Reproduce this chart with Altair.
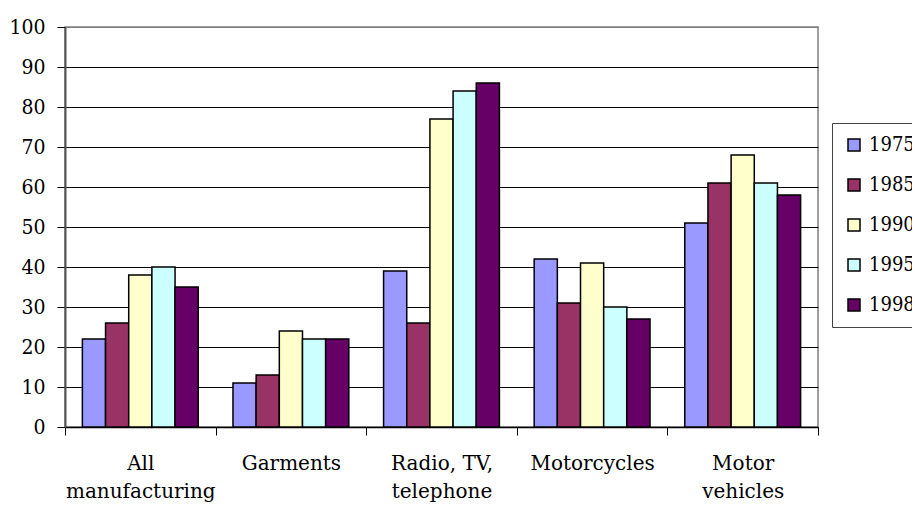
import altair as alt
import pandas as pd

category_lines = [["All", "manufacturing"], ["Garments"], ["Radio, TV,", "telephone"], ["Motorcycles"], ["Motor", "vehicles"]]
categories = [" ".join(l) for l in category_lines]
years = ["1975", "1985", "1990", "1995", "1998"]
v1975 = [22, 11, 39, 42, 51]
v1985 = [26, 13, 26, 31, 61]
v1990 = [38, 24, 77, 41, 68]
v1995 = [40, 22, 84, 30, 61]
v1998 = [35, 22, 86, 27, 58]
colors = ["#9999FF", "#993366", "#FFFFCC", "#CCFFFF", "#660066"]
y_ticks = list(range(0, 101, 10))

series = [v1975, v1985, v1990, v1995, v1998]
rows = []
for yr, vals in zip(years, series):
    for c, v in zip(categories, vals):
        rows.append({"category": c, "year": yr, "value": v})
df = pd.DataFrame(rows)

parts = []
for full, lines in zip(categories, category_lines):
    arr = "[" + ",".join("'" + l + "'" for l in lines) + "]"
    parts.append(f"datum.label == '{full}' ? {arr} : ")
label_expr = "".join(parts) + "datum.label"

FONT_X = "DejaVu Serif"
FONT_Y = "DejaVu Serif Condensed"
FONT_L = "DejaVu Serif Condensed"

chart = alt.Chart(df).mark_bar(stroke="black", strokeWidth=1.5).encode(
    x=alt.X("category:N", sort=categories, title=None,
            scale=alt.Scale(paddingInner=0, paddingOuter=0),
            axis=alt.Axis(labelAngle=0, labelExpr=label_expr, labelFont=FONT_X, labelFontSize=20,
                          labelColor="black", labelLineHeight=28, labelPadding=18, labelBaseline="top",
                          tickBand="extent", tickSize=8, tickColor="black", tickWidth=1,
                          domainColor="black", domainWidth=1.5, grid=False)),
    xOffset=alt.XOffset("year:N", sort=years, scale=alt.Scale(paddingInner=0, paddingOuter=0.75)),
    y=alt.Y("value:Q", title=None, scale=alt.Scale(domain=[0, 100], nice=False),
            axis=alt.Axis(values=y_ticks, labelFont=FONT_Y, labelFontSize=21, labelColor="black",
                          labelPadding=12, tickSize=8, tickColor="black", tickWidth=1,
                          domainColor="#555555", domainWidth=2,
                          grid=True,
                          gridColor=alt.condition("datum.value == 100", alt.value("#808080"), alt.value("black")),
                          gridWidth=1)),
    color=alt.Color("year:N", sort=years, scale=alt.Scale(domain=years, range=colors),
                    legend=alt.Legend(orient="none", legendX=767, legendY=96, title=None,
                                      symbolType="square", symbolSize=144, symbolStrokeColor="black",
                                      symbolStrokeWidth=1.5, symbolOpacity=1,
                                      labelFont=FONT_L, labelFontSize=20, labelColor="black",
                                      labelOffset=5, rowPadding=20, padding=12,
                                      strokeColor="#444444", fillColor="white")),
).properties(
    width=753, height=400, autosize="none",
    padding={"left": 57, "top": 19, "right": 94, "bottom": 78},
).configure(background="white").configure_view(stroke="#808080", strokeWidth=1.5)

chart.save("out.html", embed_options={"renderer": "svg", "actions": False})
